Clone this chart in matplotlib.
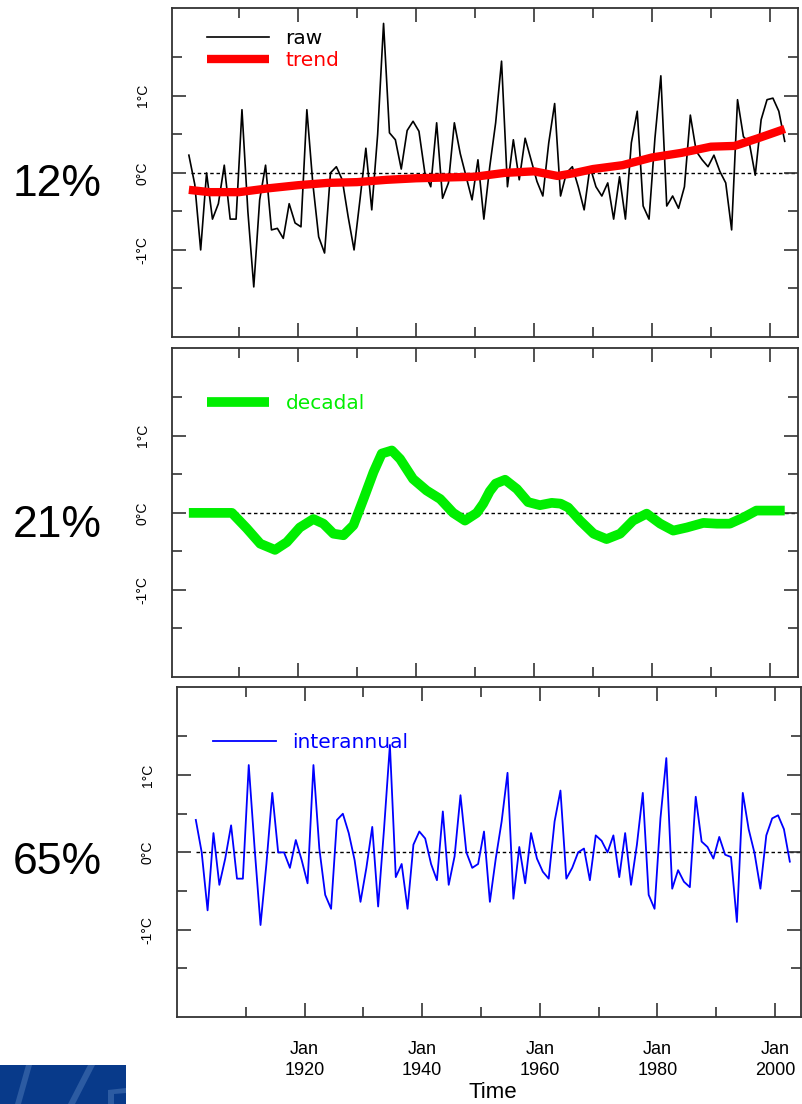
"""
Temperature series split into trend / decadal / interannual parts (three stacked panels)
"""

import numpy as np
import matplotlib
matplotlib.use('Agg')
import matplotlib.pyplot as plt
from matplotlib.patches import Rectangle, Polygon
from matplotlib.ticker import FixedLocator

plt.rcParams['font.family'] = ['Liberation Sans', 'DejaVu Sans']

# ---- data ----
years = np.arange(1901, 2003)

raw = [
    0.23, -0.15, -1.0, 0.0, -0.6, -0.4, 0.1, -0.6, -0.6, 0.82,
    -0.5, -1.48, -0.35, 0.1, -0.74, -0.72, -0.85, -0.4, -0.65, -0.7,
    0.82, -0.13, -0.83, -1.04, 0.0, 0.08, -0.09, -0.57, -1.0, -0.35,
    0.32, -0.48, 0.5, 1.94, 0.52, 0.43, 0.05, 0.55, 0.67, 0.54,
    0.0, -0.18, 0.65, -0.33, -0.13, 0.65, 0.25, -0.05, -0.35, 0.17,
    -0.6, 0.08, 0.65, 1.45, -0.18, 0.43, -0.09, 0.45, 0.17, -0.11,
    -0.3, 0.39, 0.9, -0.3, 0.0, 0.08, -0.18, -0.48, 0.08, -0.18,
    -0.3, -0.13, -0.6, -0.05, -0.6, 0.39, 0.8, -0.43, -0.6, 0.45,
    1.26, -0.43, -0.3, -0.46, -0.18, 0.75, 0.28, 0.17, 0.08, 0.23,
    0.02, -0.13, -0.74, 0.95, 0.47, 0.39, -0.03, 0.69, 0.95, 0.97,
    0.8, 0.41,
]

interannual = [
    0.42, 0.0, -0.75, 0.25, -0.42, -0.08, 0.35, -0.34, -0.34, 1.13,
    0.05, -0.94, -0.15, 0.77, 0.0, 0.0, -0.2, 0.16, -0.1, -0.4,
    1.13, 0.05, -0.55, -0.73, 0.42, 0.5, 0.25, -0.1, -0.64, -0.2,
    0.33, -0.7, 0.3, 1.39, -0.32, -0.15, -0.73, 0.1, 0.27, 0.18,
    -0.15, -0.36, 0.53, -0.42, -0.05, 0.74, 0.0, -0.2, -0.15, 0.27,
    -0.64, -0.08, 0.4, 1.03, -0.6, 0.07, -0.4, 0.25, -0.08, -0.25,
    -0.34, 0.4, 0.8, -0.34, -0.2, 0.0, 0.05, -0.36, 0.22, 0.15,
    0.0, 0.22, -0.32, 0.25, -0.42, 0.1, 0.77, -0.55, -0.73, 0.44,
    1.22, -0.47, -0.23, -0.38, -0.45, 0.72, 0.14, 0.07, -0.08, 0.2,
    -0.03, -0.06, -0.9, 0.77, 0.3, -0.01, -0.47, 0.22, 0.44, 0.48,
    0.3, -0.12,
]

trend_years = [1901.5, 1905, 1910, 1915, 1920, 1925, 1930, 1935, 1940, 1945,
               1950, 1955, 1960, 1964, 1967, 1970, 1975, 1980, 1985, 1990,
               1994, 1998, 2002.5]
trend = [-0.22, -0.25, -0.25, -0.2, -0.16, -0.13, -0.12, -0.09, -0.07, -0.06,
         -0.05, 0.0, 0.02, -0.04, 0.0, 0.05, 0.1, 0.2, 0.26, 0.34,
         0.35, 0.45, 0.57]

decadal_years = [1901.5, 1905, 1908.8, 1911.3, 1913.6, 1916.1, 1918.1, 1920.3,
                 1922.6, 1924.3, 1926, 1927.7, 1929.4, 1931.1, 1932.8, 1934.2,
                 1935.9, 1937.3, 1939.5, 1941.8, 1944.1, 1946.3, 1948.3, 1950.3,
                 1951.4, 1952.5, 1953.5, 1955.1, 1957.1, 1959.0, 1961, 1963,
                 1964.5, 1965.8, 1967.8, 1970.1, 1972.3, 1974.6, 1976.8, 1979.1,
                 1981.4, 1983.6, 1985.9, 1988.7, 1991, 1993.2, 1995.5, 1997.7,
                 2000, 2002.5]
decadal = [0.0, 0.0, 0.0, -0.2, -0.4, -0.48, -0.38, -0.19,
           -0.08, -0.14, -0.27, -0.29, -0.16, 0.18, 0.53, 0.77,
           0.81, 0.70, 0.44, 0.29, 0.18, 0.0, -0.1, 0.0,
           0.12, 0.28, 0.38, 0.43, 0.31, 0.14, 0.1, 0.13,
           0.12, 0.07, -0.1, -0.27, -0.34, -0.27, -0.1, -0.01,
           -0.14, -0.23, -0.19, -0.13, -0.14, -0.14, -0.06, 0.03,
           0.03, 0.03]

shares = ['12%', '21%', '65%']
major_years = [1920, 1940, 1960, 1980, 2000]
minor_years = [1910, 1930, 1950, 1970, 1990]
year_labels = ['Jan\n1920', 'Jan\n1940', 'Jan\n1960', 'Jan\n1980', 'Jan\n2000']
y_ticks = [-1, 0, 1]
y_labels = ['-1°C', '0°C', '1°C']

# ---- figure, axes placed in pixels ----
W, H = 802, 1104
fig = plt.figure(figsize=(W / 100, H / 100), dpi=100)


def px_axes(left, top, right, bottom):
    return fig.add_axes([left / W, 1 - bottom / H, (right - left) / W, (bottom - top) / H])


ax1 = px_axes(172, 8, 798, 337)
ax2 = px_axes(172, 348, 798, 677)
ax3 = px_axes(177, 687, 801, 1017)

ax1.set_xlim(1898.64, 2004.75)
ax2.set_xlim(1898.64, 2004.75)
ax3.set_xlim(1898.3, 2004.4)

frame_col = '#333333'
for ax in (ax1, ax2, ax3):
    ax.set_ylim(-2.13, 2.14)
    ax.xaxis.set_major_locator(FixedLocator(major_years))
    ax.xaxis.set_minor_locator(FixedLocator(minor_years))
    ax.yaxis.set_major_locator(FixedLocator(y_ticks))
    ax.yaxis.set_minor_locator(FixedLocator([-1.5, -0.5, 0.5, 1.5]))
    ax.tick_params(which='both', direction='in', top=True, right=True,
                   width=1.2, color=frame_col)
    ax.tick_params(which='major', length=10)
    ax.tick_params(which='minor', length=7)
    ax.set_yticklabels(y_labels, rotation=90, va='center', fontsize=10,
                       family=['Liberation Sans', 'DejaVu Sans'])
    ax.tick_params(axis='y', pad=16)
    for s in ax.spines.values():
        s.set_linewidth(1.3)
        s.set_color(frame_col)
    ax.axhline(0, xmin=0.03, color='black', lw=1.0, ls=(0, (2.5, 2)), zorder=1)

ax1.set_xticklabels([])
ax2.set_xticklabels([])
ax3.set_xticklabels(year_labels, fontsize=13, linespacing=1.35)
ax3.tick_params(axis='x', pad=17)

# ---- series ----
ax1.plot(years + 0.5, raw, color='black', lw=1.2, label='raw', zorder=3)
ax1.plot(trend_years, trend, color='#ff0000', lw=6, label='trend',
         solid_capstyle='butt', zorder=4)
ax2.plot(decadal_years, decadal, color='#00ee00', lw=7, label='decadal',
         solid_capstyle='butt', zorder=3)
ax3.plot(years + 0.5, interannual, color='#0000ff', lw=1.3, label='interannual', zorder=3)

leg_kw = dict(frameon=False, loc='upper left', borderpad=0, borderaxespad=0,
              handlelength=3.1, handletextpad=0.8, labelspacing=0.14,
              labelcolor='linecolor', prop={'family': 'DejaVu Sans', 'size': 14.5})
ax1.legend(bbox_to_anchor=(0.056, 0.935), **leg_kw)
ax2.legend(bbox_to_anchor=(0.056, 0.86), **leg_kw)
ax3.legend(bbox_to_anchor=(0.058, 0.86), **leg_kw)

# ---- side labels and axis title ----
for share, yc in zip(shares, [185, 525, 862]):
    fig.text(57 / W, 1 - yc / H, share, fontsize=32, ha='center', va='center')

fig.text(493 / W, 1 - 1092 / H, 'Time', fontsize=16, ha='center', va='center')

# ---- logo fragment, bottom left ----
def px(x, y):
    return (x / W, 1 - y / H)


fig.patches.append(Rectangle(px(0, 1104), 126 / W, 39 / H, transform=fig.transFigure,
                             facecolor='#083a8a', edgecolor='none'))
stripe_col = '#2c5ba2'
for pts in ([(26, 1065), (32, 1065), (21, 1104), (15, 1104)],
            [(88, 1065), (95, 1065), (75, 1104), (68, 1104)],
            [(108, 1090), (126, 1088), (126, 1093), (114, 1094), (114, 1104), (108, 1104)]):
    fig.patches.append(Polygon([px(x, y) for x, y in pts], closed=True,
                               transform=fig.transFigure, facecolor=stripe_col,
                               edgecolor='none'))

plt.savefig('out.png', dpi=100)
plt.close()
